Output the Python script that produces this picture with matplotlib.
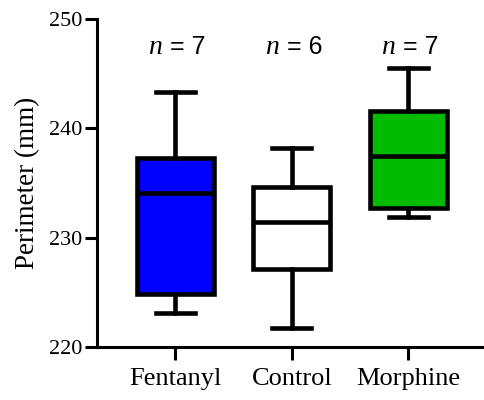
import matplotlib
matplotlib.use("Agg")
import matplotlib.pyplot as plt

# box summary per group (mm)
groups = ["Fentanyl", "Control", "Morphine"]
lo = [223.1, 221.7, 231.9]
q1 = [224.85, 227.1, 232.7]
med = [234.1, 231.4, 237.5]
q3 = [237.3, 234.6, 241.6]
hi = [243.3, 238.2, 245.55]
n_counts = [7, 6, 7]
fills = ["#0000FF", "#FFFFFF", "#00BB00"]

plt.rcParams["font.family"] = ["Liberation Serif", "DejaVu Serif"]

fig = plt.figure(figsize=(4.84, 4.0), dpi=100)
ax = fig.add_axes([0.2004, 0.1325, 0.7996, 0.82])

stats = []
for i, g in enumerate(groups):
    stats.append({"label": g, "whislo": lo[i], "q1": q1[i], "med": med[i],
                  "q3": q3[i], "whishi": hi[i], "fliers": []})

lw = 3.3
bp = ax.bxp(stats, positions=range(len(groups)), widths=0.66,
            capwidths=0.335, patch_artist=True, showfliers=False,
            boxprops=dict(linewidth=lw, edgecolor="black"),
            medianprops=dict(linewidth=lw, color="black"),
            whiskerprops=dict(linewidth=lw, color="black"),
            capprops=dict(linewidth=lw, color="black"))
for patch, c in zip(bp["boxes"], fills):
    patch.set_facecolor(c)
    patch.set_joinstyle("miter")

# group sizes: italic serif n, sans "= k"
for i, n in enumerate(n_counts):
    ax.annotate("n", xy=(i, 247.4), xytext=(-13, 0), textcoords="offset pixels",
                ha="right", va="center", fontsize=20, fontstyle="italic",
                family="Liberation Serif", annotation_clip=False)
    ax.annotate("= %d" % n, xy=(i, 247.4), xytext=(-5, 0), textcoords="offset pixels",
                ha="left", va="center", fontsize=18, family="Liberation Sans",
                annotation_clip=False)

ax.set_ylim(220, 250)
ax.set_xlim(-0.672, 2.65)
ax.set_yticks([220, 230, 240, 250])
ax.set_xticks(range(len(groups)))
ax.set_xticklabels(groups, fontsize=19)
ax.tick_params(axis="y", labelsize=16, width=2.2, length=8.6, pad=2)
ax.tick_params(axis="x", width=2.2, length=9, pad=6)
ax.set_ylabel("Perimeter (mm)", fontsize=19.5, labelpad=6)

for s in ["top", "right"]:
    ax.spines[s].set_visible(False)
for s in ["left", "bottom"]:
    ax.spines[s].set_linewidth(2.2)

fig.savefig("out.png", dpi=100)
